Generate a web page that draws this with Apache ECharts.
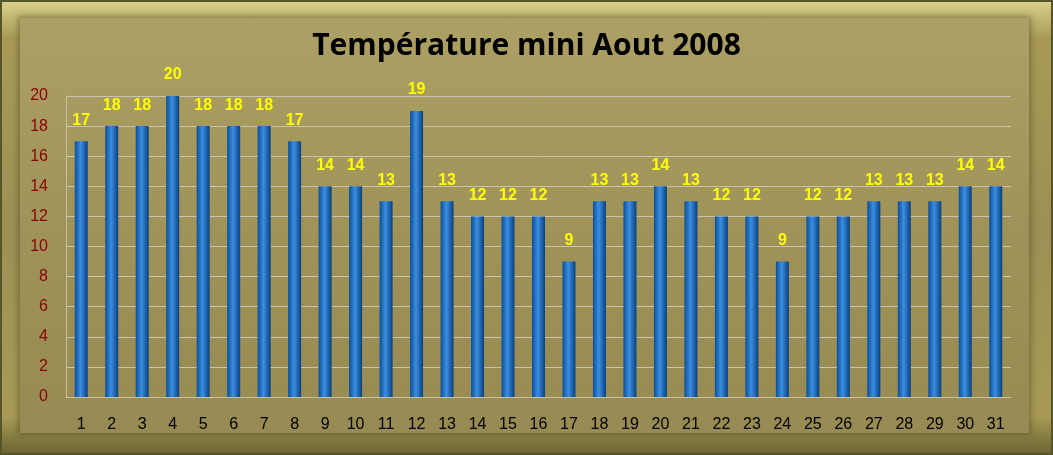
<!DOCTYPE html>
<html><head><meta charset="utf-8">
<script src="https://cdn.jsdelivr.net/npm/echarts@6/dist/echarts.min.js"></script>
<style>html,body{margin:0;padding:0;background:#fff}
#frame{position:absolute;left:0;top:0;width:1049px;height:451px;border:2px solid #55552a;
background:linear-gradient(180deg,#d8d08a 0%,#a89a55 8%,#9c9055 50%,#a89a55 92%,#6c6535 100%);}
#inner{position:absolute;left:20px;top:18px;width:1009px;height:415px;
background:linear-gradient(180deg,#ada064 0%,#a09359 50%,#978a52 100%);box-shadow:0 0 6px 2px rgba(80,70,30,0.5)}
#c{position:absolute;left:0;top:0;width:1053px;height:455px}</style></head>
<body><div id="frame"></div><div id="inner"></div><div id="c"></div>
<script>
var categories=[];for(var i=1;i<=31;i++)categories.push(String(i));
var values=[17,18,18,20,18,18,18,17,14,14,13,19,13,12,12,12,9,13,13,14,13,12,12,9,12,12,13,13,13,14,14];
var chart=echarts.init(document.getElementById('c'));
chart.setOption({
 title:{text:'Température mini Aout 2008',left:'center',top:26,textStyle:{fontFamily:'Open Sans',fontWeight:'bold',fontSize:30,color:'#000'}},
 grid:{left:66,right:42,top:96,bottom:58},
 xAxis:{type:'category',data:categories,axisTick:{show:false},axisLine:{lineStyle:{color:'#c8c0a0'}},
  axisLabel:{color:'#000',fontSize:16,fontFamily:'Liberation Sans',margin:20}},
 yAxis:{type:'value',min:0,max:20,interval:2,axisLine:{show:true,lineStyle:{color:'#c8c0a0'}},
  splitLine:{lineStyle:{color:'#c8c4b0'}},axisLabel:{color:'#8b0000',fontSize:16,fontFamily:'Liberation Sans',margin:18}},
 series:[{type:'bar',data:values,barWidth:13,
  itemStyle:{color:new echarts.graphic.LinearGradient(0,0,1,0,[{offset:0,color:'#0a4f9a'},{offset:0.45,color:'#3a8ee0'},{offset:1,color:'#0a3f80'}])},
  label:{show:true,position:'top',color:'#ffff00',fontWeight:'bold',fontSize:16,fontFamily:'Liberation Sans',distance:13}}]
});
</script></body></html>
